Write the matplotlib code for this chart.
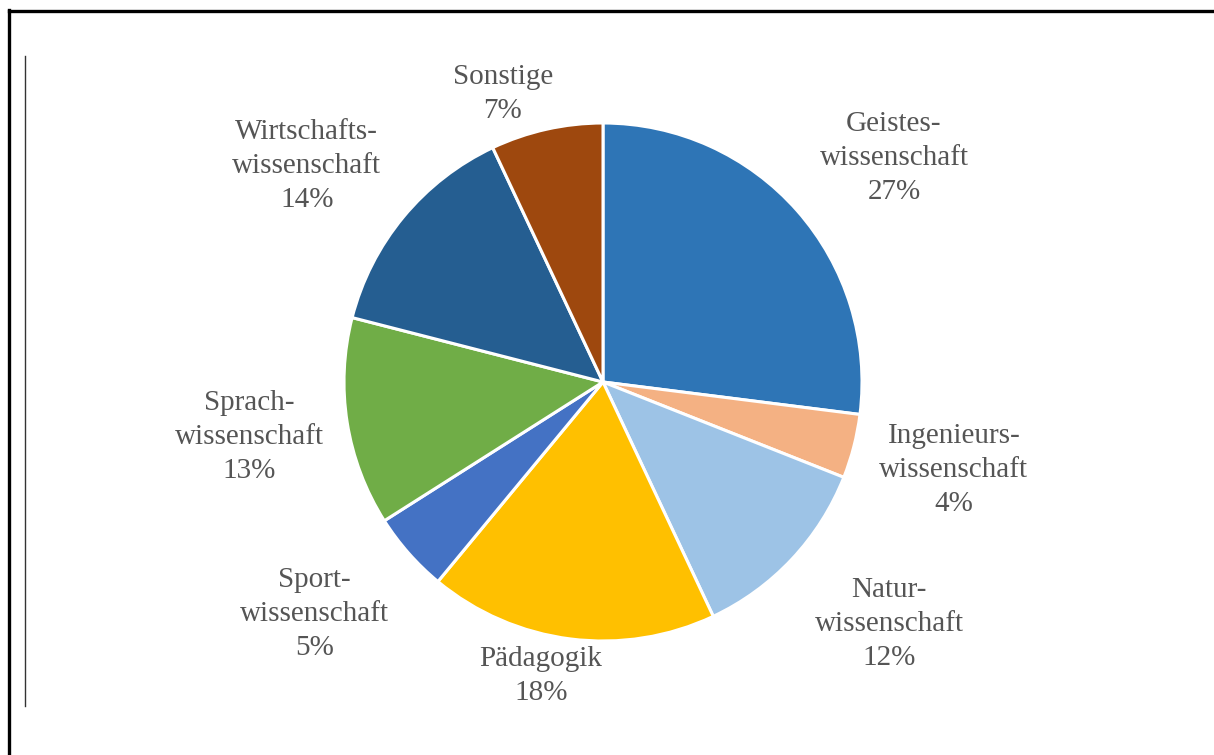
import numpy as np
import matplotlib
matplotlib.use("Agg")
import matplotlib.pyplot as plt
from matplotlib.lines import Line2D

# Anteil der Fachrichtungen in Prozent
categories = ["Geistes-\nwissenschaft", "Ingenieurs-\nwissenschaft", "Natur-\nwissenschaft",
              "Pädagogik", "Sport-\nwissenschaft", "Sprach-\nwissenschaft",
              "Wirtschafts-\nwissenschaft", "Sonstige"]
shares = [27, 4, 12, 18, 5, 13, 14, 7]
colors = ["#2E75B6", "#F4B183", "#9DC3E6", "#FFC000", "#4472C4", "#70AD47", "#255E91", "#9E480E"]

# Beschriftungsabstand (Vielfaches des Radius) und Winkelkorrektur in Grad
label_dist = [1.418, 1.397, 1.446, 1.160, 1.431, 1.383, 1.415, 1.177]
label_nudge = [-3.8, 0.3, 3.0, -4.7, -2.6, -0.2, 3.5, 6.55]

W, H = 1214, 755
fig = plt.figure(figsize=(W / 100, H / 100), dpi=100)
ax = fig.add_axes([0, 0, 1, 1])

cx, cy, R = 603, H - 382, 259
wedges, _ = ax.pie(shares, colors=colors, startangle=90, counterclock=False,
                   center=(cx, cy), radius=R, frame=True,
                   wedgeprops=dict(edgecolor="white", linewidth=2.2))
ax.set_xlim(0, W)
ax.set_ylim(0, H)
ax.set_aspect("equal")
ax.axis("off")

for w, name, val, d, nudge in zip(wedges, categories, shares, label_dist, label_nudge):
    mid = np.deg2rad((w.theta1 + w.theta2) / 2 + nudge)
    x = cx + R * d * np.cos(mid)
    y = cy + R * d * np.sin(mid)
    ax.text(x, y, f"{name}\n{val}%", ha="center", va="center",
            fontsize=21, family="Liberation Serif", color="#555555",
            linespacing=1.4)

# Rahmenlinien
fig.add_artist(Line2D([9 / W, 9 / W], [0, 1 - 10 / H], color="black", lw=2.4,
                      transform=fig.transFigure, solid_capstyle="projecting"))
fig.add_artist(Line2D([9 / W, 1213 / W], [1 - 11 / H, 1 - 11 / H], color="black", lw=2.4,
                      transform=fig.transFigure))
fig.add_artist(Line2D([25 / W, 25 / W], [1 - 706 / H, 1 - 56 / H], color="#333333", lw=1.0,
                      transform=fig.transFigure))

fig.savefig("out.png", dpi=100)
